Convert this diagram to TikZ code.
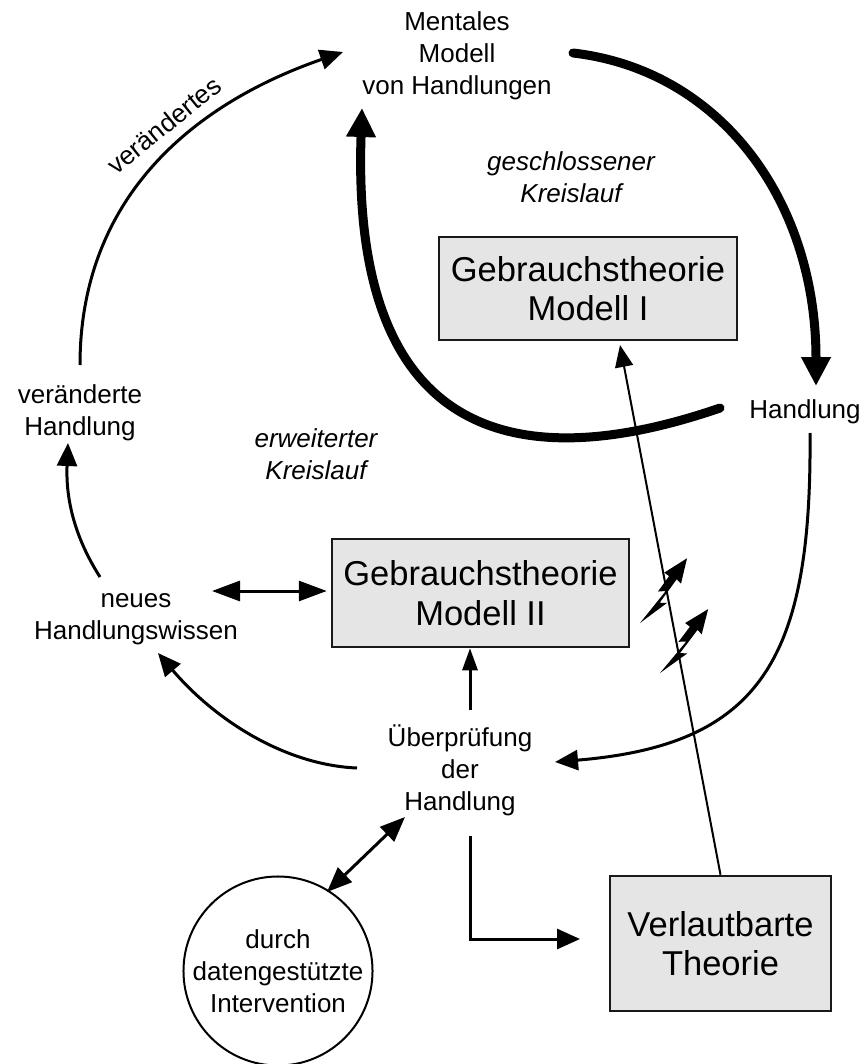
\documentclass[tikz,border=0pt]{standalone}
\usepackage{fontspec}
\setmainfont{Liberation Sans}
\usetikzlibrary{arrows.meta,calc}
\begin{document}
\begin{tikzpicture}[x=1pt,y=-1pt,
  lbl/.style={inner sep=0pt, align=center, font=\fontsize{26}{32}\selectfont},
  ilbl/.style={inner sep=0pt, align=center, font=\fontsize{26}{32}\selectfont\itshape},
  theory/.style={draw=black!90, line width=2.5pt, fill=black!10, inner sep=0pt, align=center, font=\fontsize{34.5}{39.5}\selectfont},
  bigarrow/.style={line width=9pt, line cap=round, -{Triangle[length=29pt,width=28pt]}},
  arr/.style={line width=3pt, -{Triangle[length=23pt,width=20pt]}},
  smallarr/.style={line width=3pt, -{Triangle[length=22pt,width=15pt]}},
  darr/.style={line width=3pt, {Triangle[length=25pt,width=20pt]}-{Triangle[length=25pt,width=20pt]}},
  bigdarr/.style={line width=3pt, {Triangle[length=28pt,width=20pt]}-{Triangle[length=28pt,width=20pt]}},
  thinarr/.style={line width=2pt, -{Triangle[length=22pt,width=18pt]}},
  bolt/.style={fill=black}
]
\useasboundingbox (0,0) rectangle (867,1064);
\fill[white] (0,0) rectangle (867,1064);

% nodes
\node[lbl] (mm) at (457,56) {Mentales\\Modell\\von Handlungen};
\node[ilbl] (gk) at (571,177) {geschlossener\\Kreislauf};
\node[theory, minimum width=298pt, minimum height=103pt] (m1) at (588,288.5) {Gebrauchstheorie\\Modell I};
\node[lbl] (hd) at (805,412) {Handlung};
\node[lbl] (vh) at (80,413) {veränderte\\Handlung};
\node[ilbl] (ek) at (316,454) {erweiterter\\Kreislauf};
\node[theory, minimum width=297pt, minimum height=108pt] (m2) at (480.5,593) {Gebrauchstheorie\\Modell II};
\node[lbl] (nh) at (136,619) {neues\\Handlungswissen};
\node[lbl] (ue) at (460,770) {Überprüfung\\der\\Handlung};
\node[draw, line width=2pt, circle, minimum size=184pt, inner sep=0pt, align=center, font=\fontsize{26}{32}\selectfont] (ci) at (278,971) {durch\\datengestützte\\Intervention};
\node[theory, minimum width=221pt, minimum height=135pt] (vt) at (720.5,943.5) {Verlautbarte\\Theorie};
\node[lbl, rotate=39] (vd) at (164,125) {verändertes};

% connector end points
\coordinate (vhTop) at (80,365);
\coordinate (mmLeft) at (343,52);
\coordinate (mmRight) at (573,53);
\coordinate (mmBottom) at (362,108);
\coordinate (hdTop) at (816,386);
\coordinate (hdLeft) at (720,408);
\coordinate (hdBottom) at (810,433);
\coordinate (ueRight) at (555,762);
\coordinate (ueLeft) at (357,768);
\coordinate (ueTop) at (470,710);
\coordinate (ueLow) at (470,836);
\coordinate (ueDiag) at (405,817);
\coordinate (nhBottom) at (158,653);
\coordinate (nhTop) at (100,577);
\coordinate (nhRight) at (212,591);
\coordinate (vhBottom) at (68,443);
\coordinate (ciTop) at (327,892);
\coordinate (vtLeft) at (580,939);
\coordinate (m1Bottom) at (620,345);

% closed loop (thick)
\draw[bigarrow] (mmRight) .. controls (720,70) and (816,200) .. (hdTop);
\draw[bigarrow] (hdLeft) .. controls (540,470) and (350,460) .. (mmBottom);

% extended loop
\draw[arr] (hdBottom) .. controls (812,660) and (760,745) .. (ueRight);
\draw[arr] (ueLeft) .. controls (285,765) and (215,720) .. (nhBottom);
\draw[arr] (nhTop) .. controls (70,530) and (66,490) .. (vhBottom);
\draw[arr] (vhTop) .. controls (80,200) and (190,105) .. (mmLeft);

\draw[bigdarr] (nhRight) -- ([xshift=-4pt]m2.west |- nhRight);
\draw[smallarr] (ueTop) -- (ueTop |- m2.south);
\draw[darr] (ciTop) -- (ueDiag);
\draw[arr] (ueLow) |- (vtLeft);

% espoused theory to Modell I
\draw[thinarr] (vt.north) -- (m1Bottom);

% lightning bolts
\begin{scope}[shift={(640,623)}, rotate=54]
  \fill[bolt] (0,0) -- (32,10) -- (28,4) -- (57,4) -- (56,10) -- (80,0) -- (55,-10) -- (55,-4) -- (36,-4) -- (41,2) -- cycle;
\end{scope}
\begin{scope}[shift={(660,673)}, rotate=53]
  \fill[bolt] (0,0) -- (32,10) -- (28,4) -- (57,4) -- (56,10) -- (80,0) -- (55,-10) -- (55,-4) -- (36,-4) -- (41,2) -- cycle;
\end{scope}
\end{tikzpicture}
\end{document}
